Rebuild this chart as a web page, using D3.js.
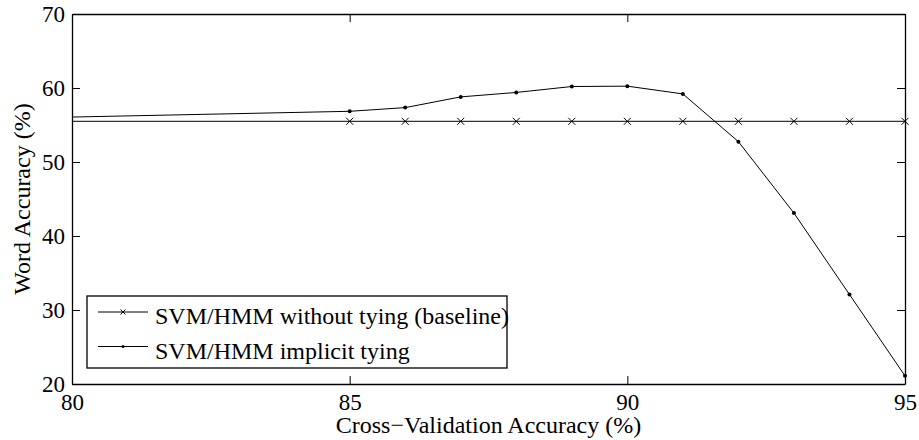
<!DOCTYPE html>
<html>
<head>
<meta charset="utf-8">
<script src="https://cdn.jsdelivr.net/npm/d3@7"></script>
<style>
  body { margin: 0; background: #fff; }
  text { font-family: "Liberation Serif", "Times New Roman", serif; fill: #000; }
</style>
</head>
<body>
<div id="chart"></div>
<script>
// Data
const xValues = [75, 85, 86, 87, 88, 89, 90, 91, 92, 93, 94, 95];
const baseline = [55.5, 55.5, 55.5, 55.5, 55.5, 55.5, 55.5, 55.5, 55.5, 55.5, 55.5, 55.5];
const implicitTying = [55.3, 56.85, 57.35, 58.8, 59.4, 60.2, 60.25, 59.2, 52.75, 43.1, 32.1, 21.1];
const xTicks = [80, 85, 90, 95];
const yTicks = [20, 30, 40, 50, 60, 70];
const seriesNames = ["SVM/HMM without tying (baseline)", "SVM/HMM implicit tying"];

const margin = { top: 14, right: 14, bottom: 56, left: 72 };
const width = 919 - margin.left - margin.right;
const height = 440 - margin.top - margin.bottom;

const svg = d3.select("#chart").append("svg")
    .attr("width", 919)
    .attr("height", 440)
  .append("g")
    .attr("transform", `translate(${margin.left},${margin.top})`);

const x = d3.scaleLinear().domain([80, 95]).range([0, width]);
const y = d3.scaleLinear().domain([20, 70]).range([height, 0]);

svg.append("defs").append("clipPath")
    .attr("id", "clip")
  .append("rect")
    .attr("width", width)
    .attr("height", height);

// Axes with inward ticks, mirrored on top and right
const bottomAxis = svg.append("g")
    .attr("transform", `translate(0,${height})`)
    .call(d3.axisBottom(x).tickValues(xTicks).tickSizeInner(-8).tickSizeOuter(0).tickPadding(10));
const topAxis = svg.append("g")
    .call(d3.axisTop(x).tickValues(xTicks).tickSizeInner(-8).tickSizeOuter(0).tickFormat(""));
const leftAxis = svg.append("g")
    .call(d3.axisLeft(y).tickValues(yTicks).tickSizeInner(-8).tickSizeOuter(0).tickPadding(7));
const rightAxis = svg.append("g")
    .attr("transform", `translate(${width},0)`)
    .call(d3.axisRight(y).tickValues(yTicks).tickSizeInner(-8).tickSizeOuter(0).tickFormat(""));

[bottomAxis, topAxis, leftAxis, rightAxis].forEach(a => {
    a.attr("font-family", null).attr("font-size", null);
    a.select(".domain").attr("stroke", "#000").attr("stroke-width", 1.3);
    a.selectAll(".tick line").attr("stroke", "#000");
    a.selectAll(".tick text").style("font-size", "23px");
});
bottomAxis.selectAll(".tick text").attr("dy", "0.68em");

const line = d3.line()
    .x((d, i) => x(xValues[i]))
    .y(d => y(d));

const plot = svg.append("g").attr("clip-path", "url(#clip)");

plot.append("path")
    .datum(baseline)
    .attr("fill", "none")
    .attr("stroke", "#000")
    .attr("stroke-width", 1)
    .attr("d", line);

plot.append("path")
    .datum(implicitTying)
    .attr("fill", "none")
    .attr("stroke", "#000")
    .attr("stroke-width", 1)
    .attr("d", line);

// Cross markers for baseline
const crossPath = "M-3.5,-3.5L3.5,3.5M-3.5,3.5L3.5,-3.5";
baseline.forEach((d, i) => {
    if (xValues[i] < 80) return;
    svg.append("path")
        .attr("d", crossPath)
        .attr("transform", `translate(${x(xValues[i])},${y(d)})`)
        .attr("stroke", "#000")
        .attr("stroke-width", 1);
});

// Dot markers for implicit tying
implicitTying.forEach((d, i) => {
    if (xValues[i] < 80) return;
    svg.append("circle")
        .attr("cx", x(xValues[i]))
        .attr("cy", y(d))
        .attr("r", 2)
        .attr("fill", "#000");
});

// Axis labels
svg.append("text")
    .attr("x", width / 2)
    .attr("y", height + 49)
    .style("text-anchor", "middle")
    .style("font-size", "24px")
    .text("Cross\u2212Validation Accuracy (%)");

svg.append("text")
    .attr("transform", "rotate(-90)")
    .attr("x", -height / 2)
    .attr("y", -42)
    .style("text-anchor", "middle")
    .style("font-size", "24px")
    .text("Word Accuracy (%)");

// Legend
const legend = svg.append("g")
    .attr("transform", `translate(${87 - margin.left},${296 - margin.top})`);

legend.append("rect")
    .attr("width", 420)
    .attr("height", 72)
    .attr("fill", "#fff")
    .attr("stroke", "#000")
    .attr("stroke-width", 1.3);

seriesNames.forEach((name, i) => {
    const ly = 16 + i * 34.5;
    legend.append("line")
        .attr("x1", 11).attr("x2", 61)
        .attr("y1", ly).attr("y2", ly)
        .attr("stroke", "#000");
    if (i === 0) {
        legend.append("path")
            .attr("d", "M-2.5,-2.5L2.5,2.5M-2.5,2.5L2.5,-2.5")
            .attr("transform", `translate(36,${ly})`)
            .attr("stroke", "#000");
    } else {
        legend.append("circle")
            .attr("cx", 36).attr("cy", ly).attr("r", 1.6)
            .attr("fill", "#000");
    }
    legend.append("text")
        .attr("x", 68)
        .attr("y", ly + 12)
        .style("font-size", "24px")
        .text(name);
});
</script>
</body>
</html>
